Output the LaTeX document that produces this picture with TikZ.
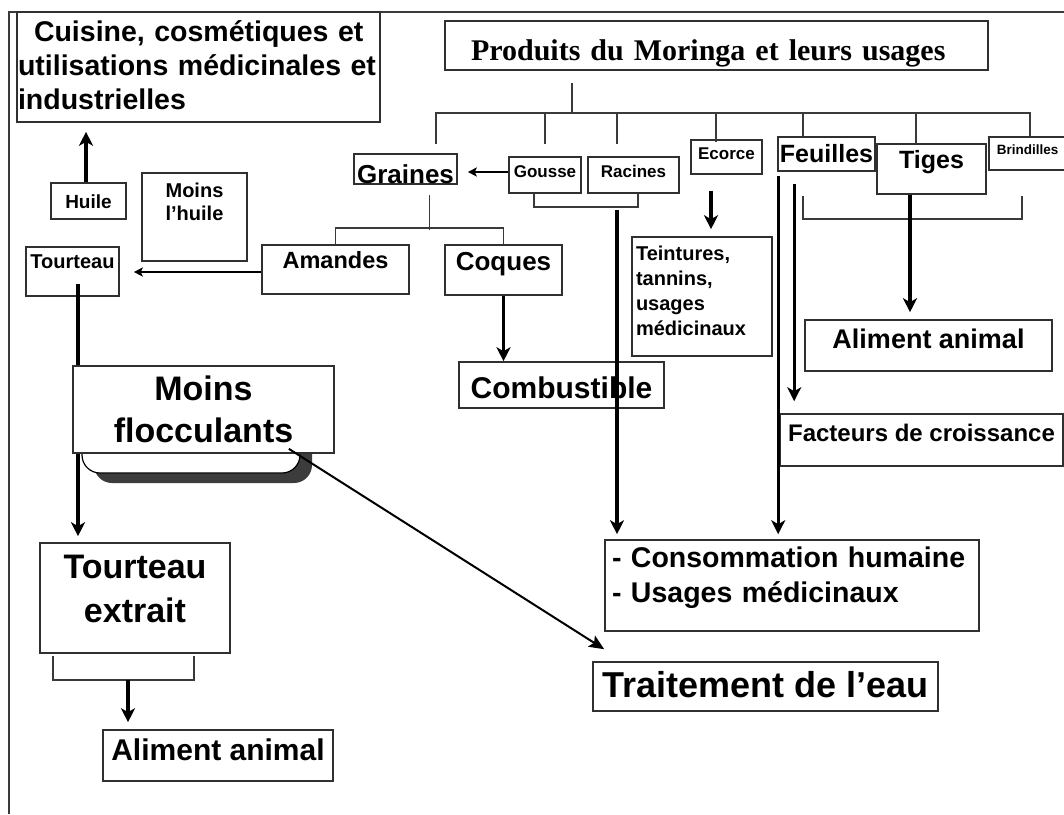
\documentclass[tikz,border=0pt]{standalone}
\usepackage{fontspec}
\setmainfont{Liberation Sans}
\newfontfamily\titlefont{Liberation Serif}
\usepackage{tikz}
\usetikzlibrary{arrows.meta,positioning,calc}
\definecolor{boxgray}{HTML}{303030}
\definecolor{treegray}{HTML}{3A3A3A}
\definecolor{shadowgray}{HTML}{3C3C3C}

\begin{document}
\begin{tikzpicture}[x=1pt, y=-1pt,
    box/.style={rectangle, draw=boxgray, line width=1.6pt, fill=white,
                inner sep=0pt, anchor=base},
    fs/.style 2 args={font=\bfseries\fontsize{#1}{#2}\selectfont},
    tree/.style={draw=treegray, line width=1.6pt},
    heavy/.style={line width=3.2pt},
    arrow/.style={-{Stealth[length=14pt,width=14pt,inset=4pt]}, line width=3.2pt},
    thinarrow/.style={-{Stealth[length=9pt,width=9pt,inset=2pt]}, line width=1.6pt},
    diag/.style={-{Stealth[length=15pt,width=13pt,inset=3pt]}, line width=2pt},
    frame/.style={draw=treegray, line width=1.5pt}
]
    \useasboundingbox (0,0) rectangle (1064,814);

    % Frame
    \draw[frame] (9,814) -- (9,12) -- (1064,12);

    % Rounded base under the flocculants box
    \fill[shadowgray, rounded corners=18pt] (94,420) rectangle (312,483);
    \filldraw[fill=white, draw=black, line width=1.2pt, rounded corners=18pt]
        (82,410) rectangle (300,473);

    % Top of the tree
    \node[box, text width=491pt, inner xsep=26pt, align=left, text height=39pt, text depth=10pt,
          font=\titlefont\bfseries\fontsize{30}{30}\selectfont] (title) at (716.5,60)
        {Produits du Moringa et leurs usages};
    \coordinate (hub) at (572,113);

    \node[box, fs={26}{26}, minimum width=103pt, text height=29pt, text depth=1pt] (graines) at (405.5,183) {Graines};
    \node[box, fs={17}{17}, minimum width=72pt, text height=20pt, text depth=16pt] (gousse) at (545,177) {Gousse};
    \node[box, fs={17}{17}, minimum width=91pt, text height=20pt, text depth=16pt] (racines) at (633.5,177) {Racines};
    \node[box, fs={17}{17}, minimum width=71pt, text height=19pt, text depth=15pt] (ecorce) at (726.5,159) {Ecorce};
    \node[box, fs={25}{25}, minimum width=97pt, text height=25pt, text depth=9pt] (feuilles) at (826.5,162) {Feuilles};
    \node[box, fs={25}{25}, minimum width=109pt, text height=24pt, text depth=26pt] (tiges) at (931.5,168) {Tiges};
    \node[box, fs={13.5}{13.5}, minimum width=77pt, text height=17pt, text depth=16pt] (brindilles) at (1027.5,154) {Brindilles};

    % Seeds side
    \node[box, fs={28.5}{34}, text width=361pt, inner xsep=1pt, align=left, text height=29pt, text depth=81pt] (cuisine) at (198.5,41)
        {\hspace*{16pt}Cuisine, cosmétiques et\\utilisations médicinales et\\industrielles};
    \node[box, fs={19}{19}, minimum width=75pt, text height=25pt, text depth=11pt] (huile) at (88.5,208) {Huile};
    \node[box, fs={20}{23}, minimum width=105pt, align=center, text height=47pt, text depth=41pt] (moinshuile) at (194.5,220) {Moins\\l’huile};
    \node[box, fs={20}{20}, minimum width=93pt, text height=21pt, text depth=28pt] (tourteau) at (72.5,268) {Tourteau};
    \node[box, fs={23.5}{23.5}, minimum width=147pt, text height=23pt, text depth=26pt] (amandes) at (335.5,268) {Amandes};
    \node[box, fs={26}{26}, minimum width=117pt, text height=25pt, text depth=25pt] (coques) at (503.5,270) {Coques};
    \node[box, fs={30}{30}, minimum width=205pt, text height=36pt, text depth=10pt] (combustible) at (561.5,398) {Combustible};
    \node[box, fs={34}{42}, minimum width=261pt, align=center, text height=76pt, text depth=11pt] (moins) at (203.5,442) {Moins\\flocculants};
    \node[box, fs={34}{44}, minimum width=190pt, align=center, text height=79pt, text depth=31pt] (textrait) at (135,622) {Tourteau\\extrait};
    \node[box, fs={30}{30}, minimum width=230pt, text height=30pt, text depth=21pt] (animall) at (218,760) {Aliment animal};

    % Other parts
    \node[box, fs={20}{25}, text width=132pt, inner xsep=4pt, align=left, text height=23pt, text depth=96pt] (teintures) at (702,260)
        {Teintures,\\tannins,\\usages\\médicinaux};
    \node[box, fs={27}{27}, minimum width=247pt, text height=28pt, text depth=23pt] (animalr) at (928.5,348) {Aliment animal};
    \node[box, fs={24}{24}, minimum width=283pt, text height=27pt, text depth=25pt] (facteurs) at (921.5,441) {Facteurs de croissance};
    \node[box, fs={28.5}{35}, text width=360pt, inner xsep=7pt, align=left, text height=27pt, text depth=64pt] (conso) at (792,567)
        {- Consommation humaine\\- Usages médicinaux};
    \node[box, fs={36}{36}, minimum width=345pt, text height=35pt, text depth=14pt] (traitement) at (765.5,697) {Traitement de l’eau};

    % Tree lines
    \draw[tree] (hub) -- ++(0,-30);
    \foreach \n/\dx/\dy in {graines/30.5/-9, gousse/0/-12, racines/-16.5/-12, ecorce/-10.5/3,
                           feuilles/-23.5/0, tiges/-15.5/0, brindilles/2.5/0}
        \draw[tree] ($(\n.north)+(\dx,\dy)$) |- (hub);

    \draw[thinarrow] ($(gousse.west)+(0,-3)$) -- ($(graines.east)+(10,3)$);
    \draw[tree] ($(gousse.south)+(-11,0)$) |- ($(racines.south)+(4.5,13)$) -- ($(racines.south)+(4.5,0)$);
    \draw[tree] ($(graines.south)+(24,10)$) -- ($(graines.south)+(24,45)$);
    \draw[tree] (amandes.north) -- ++(0,-16) -| (coques.north);
    \draw[tree] ($(tiges.south)+(-128.5,1)$) |- ($(tiges.south)+(90.5,24)$) -- ($(tiges.south)+(90.5,1)$);
    \draw[tree] ($(textrait.south west)+(14,2)$) |- ($(textrait.south east)+(-37,26)$) -- ($(textrait.south east)+(-37,2)$);

    % Arrows
    \draw[thinarrow] ($(amandes.west)+(0,2.5)$) -- ($(tourteau.east)+(14,0.5)$);
    \draw[arrow] ($(huile.north)+(-2.5,0)$) -- ($(cuisine.south)+(-112.5,9)$);

    \coordinate (tt) at ($(tourteau.south)+(5.5,-13)$);
    \draw[heavy] (tt) -- (tt |- moins.north);
    \draw[arrow, shorten >=6pt] (tt |- moins.south) -- (tt |- textrait.north);

    \draw[arrow] (coques.south) -- (coques.south |- combustible.north);

    \coordinate (rl) at ($(racines.south)+(-16.5,16)$);
    \draw[arrow, shorten >=5pt] (rl) -- (rl |- conso.north);

    \coordinate (ea) at ($(ecorce.south)+(-15.5,16)$);
    \draw[arrow, shorten >=7pt] (ea) -- (ea |- teintures.north);

    \coordinate (fa) at ($(feuilles.south -| facteurs.west)+(-1,4)$);
    \draw[arrow, shorten >=5pt] (fa) -- (fa |- conso.north);
    \coordinate (fb) at ($(feuilles.south -| facteurs.west)+(15,12)$);
    \draw[arrow, shorten >=12pt] (fb) -- (fb |- facteurs.north);

    \coordinate (tg) at ($(tiges.south)+(-21.5,0)$);
    \draw[arrow, shorten >=7pt] (tg) -- (tg |- animalr.north);

    \coordinate (ta) at ($(textrait.south)+(-7,26)$);
    \draw[arrow, shorten >=7pt] (ta) -- (ta |- animall.north);

    \draw[diag] ($(moins.south east)+(-46,-5)$) -- ($(traitement.north west)+(12,-12)$);

\end{tikzpicture}
\end{document}
